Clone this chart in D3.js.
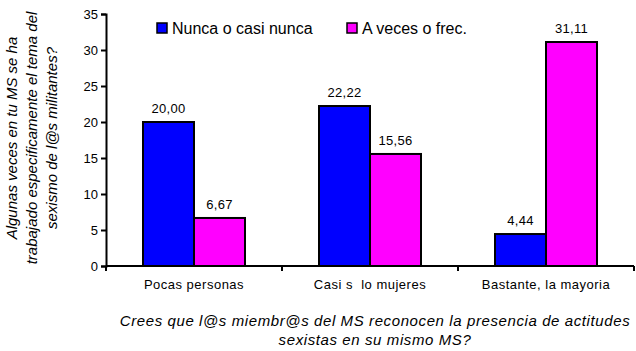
<!DOCTYPE html>
<html>
<head>
<meta charset="utf-8">
<script src="https://cdn.jsdelivr.net/npm/d3@7"></script>
<style>
  body { margin: 0; background: #fff; }
  text { font-family: "Liberation Sans", Arial, sans-serif; white-space: pre; }
</style>
</head>
<body>
<div id="chart"></div>
<script>
const categories = ['Pocas personas', 'Casi s  lo mujeres', 'Bastante, la mayoria']
const seriesNames = ['Nunca o casi nunca', 'A veces o frec.']
const nunca = [20.00, 22.22, 4.44]
const aveces = [6.67, 15.56, 31.11]
const yTicks = [0, 5, 10, 15, 20, 25, 30, 35]
const colors = ['#0000ff', '#ff00ff']
const yTitle = ['Algunas veces en tu MS se ha', 'trabajado especificamente el tema del', 'sexismo de l@s militantes?']
const xTitle = ['Crees que l@s miembr@s del MS reconocen la presencia de actitudes', 'sexistas en su mismo MS?']

const width = 636, height = 351
const padding = { left: 106, top: 14, right: 2, bottom: 85 }

const svg = d3.select('#chart').append('svg')
  .attr('width', width)
  .attr('height', height)

const x = d3.scaleBand()
  .domain(categories)
  .range([padding.left, width - padding.right])

const y = d3.scaleLinear()
  .domain([0, 35])
  .range([height - padding.bottom, padding.top])

const series = [nunca, aveces]
const barW = 51

// bars
series.forEach((vals, s) => {
  svg.append('g').selectAll('rect')
    .data(vals)
    .enter().append('rect')
    .attr('x', (d, i) => x(categories[i]) + x.bandwidth() / 2 - barW + s * barW)
    .attr('y', d => y(d))
    .attr('width', barW)
    .attr('height', d => y(0) - y(d))
    .attr('fill', colors[s])
    .attr('stroke', '#000')
    .attr('stroke-width', 2)

  svg.append('g').selectAll('text')
    .data(vals)
    .enter().append('text')
    .attr('x', (d, i) => x(categories[i]) + x.bandwidth() / 2 - barW / 2 + s * barW)
    .attr('y', d => y(d) - 9)
    .attr('text-anchor', 'middle')
    .attr('font-size', 13)
    .attr('letter-spacing', 0.3)
    .text(d => d.toFixed(2).replace('.', ','))
})

// y axis
const yAxis = d3.axisLeft(y).tickValues(yTicks).tickSize(5).tickPadding(3)
const yG = svg.append('g')
  .attr('transform', `translate(${padding.left}, 0)`)
  .call(yAxis)
yG.select('.domain').attr('stroke-width', 2)
yG.selectAll('.tick line').attr('stroke-width', 2)
yG.selectAll('.tick text').attr('font-size', 13).attr('fill', '#000')
  .style('font-family', '"Liberation Sans", Arial, sans-serif')

// x axis: ticks at category boundaries
const xG = svg.append('g')
  .attr('transform', `translate(0, ${y(0)})`)
xG.append('line')
  .attr('x1', padding.left).attr('x2', width - padding.right)
  .attr('stroke', '#000').attr('stroke-width', 2)
const bounds = categories.map(c => x(c)).concat([x(categories[categories.length - 1]) + x.bandwidth()])
xG.selectAll('.xt').data(bounds).enter().append('line')
  .attr('x1', d => d).attr('x2', d => d)
  .attr('y1', 0).attr('y2', 5)
  .attr('stroke', '#000').attr('stroke-width', 2)
xG.selectAll('.xl').data(categories).enter().append('text')
  .attr('x', d => x(d) + x.bandwidth() / 2)
  .attr('y', 23)
  .attr('text-anchor', 'middle')
  .attr('font-size', 13)
  .attr('letter-spacing', 0.5)
  .text(d => d)

// legend
const legX = [157, 347]
seriesNames.forEach((n, i) => {
  svg.append('rect')
    .attr('x', legX[i]).attr('y', 23)
    .attr('width', 10).attr('height', 10)
    .attr('fill', colors[i]).attr('stroke', '#000').attr('stroke-width', 1.5)
  svg.append('text')
    .attr('x', legX[i] + 15).attr('y', 34)
    .attr('font-size', 16)
    .text(n)
})

// axis titles
svg.append('text')
  .attr('text-anchor', 'middle')
  .attr('font-size', 15)
  .attr('letter-spacing', 0.6)
  .attr('font-style', 'italic')
  .selectAll('tspan').data(xTitle).enter().append('tspan')
  .attr('x', 375)
  .attr('y', (d, i) => 326 + i * 19)
  .text(d => d)

svg.append('text')
  .attr('text-anchor', 'middle')
  .attr('font-size', 15)
  .attr('font-style', 'italic')
  .attr('transform', 'translate(0, 138) rotate(-90)')
  .selectAll('tspan').data(yTitle).enter().append('tspan')
  .attr('x', 0)
  .attr('y', (d, i) => 17 + i * 20)
  .text(d => d)
</script>
</body>
</html>
